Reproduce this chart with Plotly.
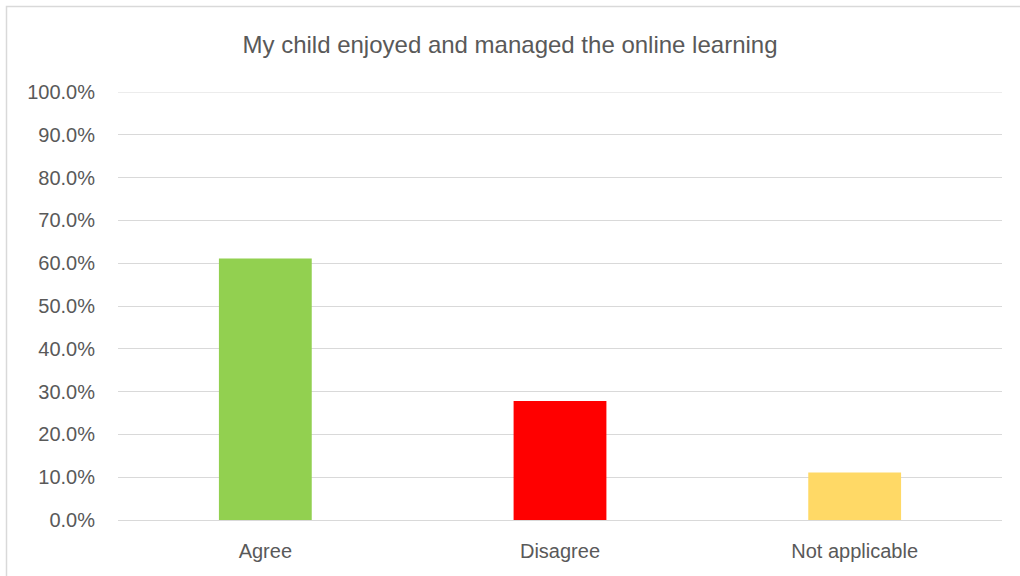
import plotly.graph_objects as go

categories = ["Agree", "Disagree", "Not applicable"]
values = [0.611, 0.278, 0.111]
colors = ["#92D050", "#FF0000", "#FFD966"]
title_text = "My child enjoyed and managed the online learning"
y_ticks = [i / 10 for i in range(11)]

fig = go.Figure(go.Bar(x=categories, y=values, marker=dict(color=colors, line=dict(width=0)), width=0.315))

fig.update_layout(
    width=1020, height=576,
    margin=dict(l=118, r=18, t=92, b=56),
    paper_bgcolor="white", plot_bgcolor="white",
    title=dict(text=title_text, x=0.5, xanchor="center", y=1 - 45/576, yanchor="middle",
               font=dict(family="Liberation Sans, Arial", size=24, color="#595959")),
    font=dict(family="Liberation Sans, Arial", size=20, color="#595959"),
    showlegend=False,
)
fig.update_yaxes(range=[0, 1.0], tickvals=y_ticks, tickformat=".1%",
                 showgrid=True, gridcolor="#D9D9D9",
                 gridwidth=1, zeroline=False, showline=False, ticks="", ticklabelstandoff=22,
                 tickfont=dict(size=20, color="#595959"))
fig.update_xaxes(showline=True, linecolor="#D9D9D9", linewidth=1, ticks="", ticklabelstandoff=13,
                 tickfont=dict(size=20, color="#595959"))
# top gridline (plotly hides gridlines on the plot edge)
fig.add_shape(type="line", xref="paper", yref="y", x0=0, x1=1, y0=y_ticks[-1], y1=y_ticks[-1],
              line=dict(color="#D9D9D9", width=1), layer="below")
fig.add_shape(type="rect", xref="paper", yref="paper",
              x0=(6.5 - 118) / 884, x1=1.1, y0=-0.5, y1=1 + (92 - 6.5) / 428,
              line=dict(color="#D9D9D9", width=1.5), fillcolor="rgba(0,0,0,0)", layer="below")

fig.write_html("out.html", config={"displayModeBar": False},
               post_script="document.body.style.margin='0';document.body.style.padding='0';")
